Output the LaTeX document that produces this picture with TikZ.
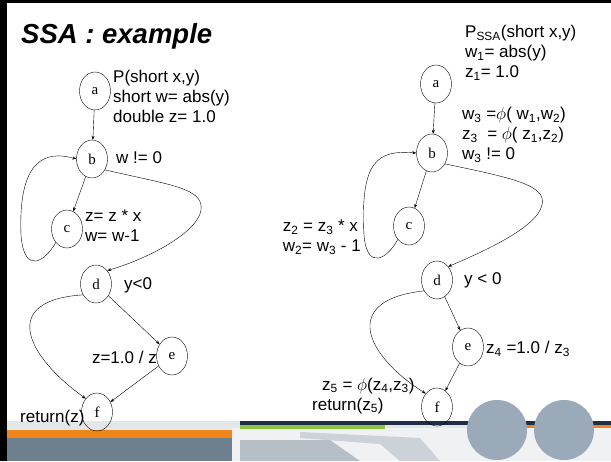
\documentclass[tikz,border=0pt]{standalone}
\usepackage{fontspec}
\setmainfont{Liberation Sans}
\newfontfamily\letterfont{Liberation Serif}
\usetikzlibrary{shapes.geometric, arrows.meta}
\newcommand{\lo}[1]{\textsubscript{#1}}
\definecolor{bandorange}{HTML}{F0851A}
\definecolor{bandslate}{HTML}{6E7F8D}
\definecolor{bandlight}{HTML}{E4E7EA}
\definecolor{bandnavy}{HTML}{1F2D45}
\definecolor{bandgreen}{HTML}{8DC63F}
\definecolor{globegray}{HTML}{9AAAB8}
\begin{document}
\begin{tikzpicture}[x=1pt, y=-1pt,
    blk/.style={ellipse, draw, thin, minimum width=31pt, minimum height=38pt, inner sep=0pt,
        font=\letterfont\fontsize{15}{15}\selectfont},
    txt/.style={anchor=west, align=left, inner sep=0pt, font=\fontsize{17}{20}\selectfont},
    edge/.style={-{Stealth[length=4pt, width=3pt]}, thin}]
    \useasboundingbox (0,0) rectangle (611,461);
    \fill[white] (0,0) rectangle (611,461);
    \fill[bandlight] (7,421) rectangle (611,461);
    \fill[bandorange] (7,430) rectangle (232,438);
    \fill[bandslate] (7,438) rectangle (240,461);
    \fill[bandlight!60!white] (232,428) rectangle (611,461);
    \fill[bandslate!50!white] (240,440) -- (330,440) -- (360,461) -- (240,461) -- cycle;
    \fill[bandslate!35!white] (300,432) -- (420,438) -- (440,461) -- (400,461) -- (380,444) -- (300,438) -- cycle;
    \fill[bandnavy] (240,421) rectangle (611,425);
    \fill[bandgreen] (240,425) rectangle (385,429);
    \fill[bandorange] (470,425) rectangle (611,428);
    \fill[globegray] (497,430) circle (30);
    \fill[globegray] (564,430) circle (30);
    \fill[black] (0,0) rectangle (611,3);
    \fill[black] (0,0) rectangle (7,461);
    \node[anchor=base west, inner sep=0pt, font=\bfseries\itshape\fontsize{27.5}{27.5}\selectfont] (title) at (21,43) {SSA : example};
    \node[blk] (a_1) at (95,91) {a};
    \node[blk] (b_1) at (92,159) {b};
    \node[blk] (c_1) at (67,229) {c};
    \node[blk] (d_1) at (96,284) {d};
    \node[blk] (e_1) at (172,356) {e};
    \node[blk] (f_1) at (97,412) {f};
    \node[txt] (p_1) at (113,96) {P(short x,y)\\short w= abs(y)\\double z= 1.0};
    \node[txt] (bt_1) at (116,158) {w != 0};
    \node[txt] (ct_1) at (85,226) {z= z * x\\w= w-1};
    \node[txt] (dt_1) at (124,285) {y<0};
    \node[txt, anchor=east] (et_1) at (157,357) {z=1.0 / z};
    \node[txt] (ft_1) at (20,418) {return(z)};
    \draw[edge] (a_1) -- (b_1);
    \draw[edge] (b_1) -- (c_1);
    \draw[edge] (c_1.230) .. controls (45,262) and (24,275) .. (21,235) .. controls (18,160) and (45,150) .. (b_1.west);
    \draw[edge] (b_1.-40) .. controls (170,185) and (204,188) .. (201,210) .. controls (198,232) and (150,258) .. (d_1.50);
    \draw[edge] (d_1) -- (e_1);
    \draw[edge] (d_1.220) .. controls (0,300) and (25,355) .. (f_1.130);
    \draw[edge] (e_1) -- (f_1);
    \node[blk] (a_2) at (436,84) {a};
    \node[blk] (b_2) at (432,153) {b};
    \node[blk] (c_2) at (409,226) {c};
    \node[blk] (d_2) at (437,280) {d};
    \node[blk] (e_2) at (468,347) {e};
    \node[blk] (f_2) at (437,407) {f};
    \node[txt] (p_2) at (465,53) {P\lo{SSA}(short x,y)\\ w\lo{1}= abs(y)\\ z\lo{1}= 1.0};
    \node[txt] (bt_2) at (462,135) {w\lo{3} =$\phi$( w\lo{1},w\lo{2})\\z\lo{3} \ = $\phi$( z\lo{1},z\lo{2})\\w\lo{3} != 0};
    \node[txt, anchor=east] (ct_2) at (361,237) {z\lo{2} = z\lo{3} * x\\w\lo{2}= w\lo{3} - 1};
    \node[txt] (dt_2) at (464,280) {y < 0};
    \node[txt] (et_2) at (486,349) {z\lo{4} =1.0 / z\lo{3}};
    \node[txt] (ft_2) at (312,396) {\hspace*{10pt}z\lo{5} = $\phi$(z\lo{4},z\lo{3})\\return(z\lo{5})};
    \draw[edge] (a_2) -- (b_2);
    \draw[edge] (b_2) -- (c_2);
    \draw[edge] (c_2.230) .. controls (388,258) and (367,272) .. (364,235) .. controls (360,160) and (378,150) .. (b_2.west);
    \draw[edge] (b_2.-40) .. controls (512,178) and (547,185) .. (542,205) .. controls (537,228) and (482,252) .. (d_2.50);
    \draw[edge] (d_2) -- (e_2);
    \draw[edge] (d_2.220) .. controls (340,300) and (365,355) .. (f_2.130);
    \draw[edge] (e_2) -- (f_2);
\end{tikzpicture}
\end{document}
